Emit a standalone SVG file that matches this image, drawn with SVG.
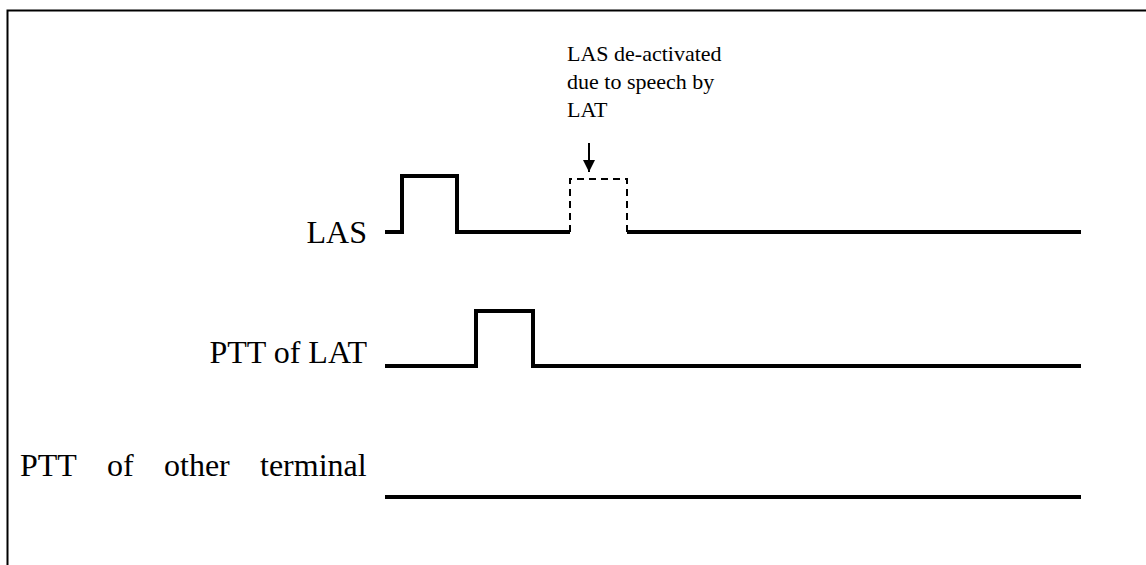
<svg xmlns="http://www.w3.org/2000/svg" width="1146" height="565" viewBox="0 0 1146 565">
<style>
.sig{fill:none;stroke:#000;stroke-width:4;stroke-linejoin:miter}
.dash{fill:none;stroke:#000;stroke-width:2;stroke-dasharray:7,5}
</style>
<defs>
<marker id="ah" markerWidth="12" markerHeight="12" refX="12" refY="6" orient="auto" markerUnits="userSpaceOnUse" viewBox="0 0 12 12">
<path d="M0,0 L12,6 L0,12 Z" fill="#000"/>
</marker>
</defs>
<rect x="0" y="0" width="1146" height="565" fill="#fff"/>
<path d="M7.5,565 L7.5,10.5 L1146,10.5" fill="none" stroke="#000" stroke-width="2"/>
<g font-family="Liberation Serif, Times New Roman, serif" fill="#000">
<g id="label-las"><text x="367" y="243" font-size="32" text-anchor="end">LAS</text></g>
<g id="label-pttlat"><text x="367" y="363" font-size="32" text-anchor="end">PTT of LAT</text></g>
<g id="label-pttother"><text y="476" font-size="32"><tspan x="20">PTT</tspan> <tspan x="107">of</tspan> <tspan x="164">other</tspan> <tspan x="260">terminal</tspan></text></g>
<g id="note"><text font-size="22"><tspan x="567" y="61">LAS de-activated</tspan><tspan x="567" y="89">due to speech by</tspan><tspan x="567" y="117">LAT</tspan></text></g>
</g>
<g id="connectors">
<path class="sig" d="M385,232 L402,232 L402,176 L457,176 L457,232 L570,232"/>
<path class="dash" d="M570,232 L570,179 L627,179 L627,232"/>
<path class="sig" d="M627,232 L1081,232"/>
<path class="sig" d="M385,366 L476,366 L476,311 L533,311 L533,366 L1081,366"/>
<path class="sig" d="M385,497 L1081,497"/>
<line x1="589" y1="143" x2="589" y2="172" stroke="#000" stroke-width="2" marker-end="url(#ah)"/>
</g>
</svg>
